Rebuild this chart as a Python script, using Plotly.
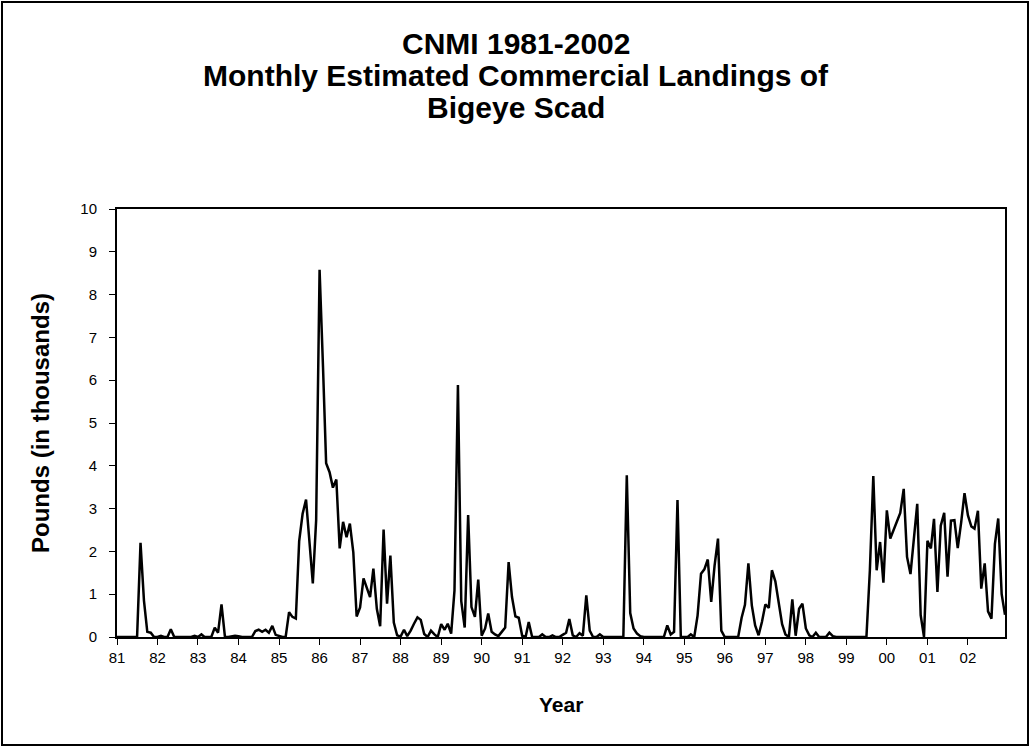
import pandas as pd
import plotly.graph_objects as go

# Monthly estimated landings (thousands of pounds), Jan..Dec for each year
y1981 = [0, 0, 0, 0, 0, 0, 0, 2.2, 0.85, 0.12, 0.1, 0]
y1982 = [0, 0.03, 0, 0, 0.18, 0, 0, 0, 0, 0, 0, 0.03]
y1983 = [0, 0.06, 0, 0, 0, 0.22, 0.1, 0.76, 0, 0, 0.02, 0.03]
y1984 = [0.02, 0, 0, 0, 0, 0.14, 0.17, 0.12, 0.17, 0.1, 0.26, 0.05]
y1985 = [0.02, 0, 0, 0.58, 0.47, 0.43, 2.24, 2.88, 3.21, 2.2, 1.25, 2.73]
y1986 = [8.58, 6.3, 4.06, 3.85, 3.49, 3.68, 2.07, 2.69, 2.33, 2.65, 1.98, 0.48]
y1987 = [0.69, 1.37, 1.16, 0.93, 1.6, 0.66, 0.25, 2.51, 0.78, 1.9, 0.34, 0.04]
y1988 = [0.01, 0.17, 0.02, 0.15, 0.31, 0.46, 0.4, 0.07, 0, 0.15, 0.06, 0]
y1989 = [0.3, 0.17, 0.31, 0.08, 1.09, 5.89, 0.84, 0.22, 2.85, 0.7, 0.47, 1.34]
y1990 = [0.03, 0.2, 0.55, 0.12, 0.06, 0.02, 0.12, 0.22, 1.75, 0.94, 0.48, 0.45]
y1991 = [0.03, 0, 0.35, 0, 0, 0, 0.06, 0, 0, 0.04, 0, 0]
y1992 = [0.05, 0.1, 0.42, 0.04, 0, 0.09, 0.03, 0.97, 0.15, 0, 0, 0.06]
y1993 = [0, 0, 0, 0, 0, 0, 0, 3.78, 0.56, 0.2, 0.08, 0.02]
y1994 = [0, 0, 0, 0, 0, 0, 0, 0.27, 0.06, 0.12, 3.2, 0]
y1995 = [0, 0, 0.06, 0, 0.5, 1.48, 1.58, 1.81, 0.82, 1.66, 2.3, 0.15]
y1996 = [0, 0, 0, 0, 0, 0.45, 0.75, 1.72, 0.74, 0.27, 0.04, 0.35]
y1997 = [0.76, 0.68, 1.56, 1.3, 0.76, 0.3, 0.06, 0, 0.88, 0.03, 0.66, 0.78]
y1998 = [0.2, 0.04, 0, 0.1, 0, 0, 0, 0.1, 0.02, 0, 0, 0]
y1999 = [0, 0, 0, 0, 0, 0, 0, 1.56, 3.76, 1.56, 2.22, 1.27]
y2000 = [2.96, 2.3, 2.5, 2.68, 2.9, 3.46, 1.87, 1.47, 2.34, 3.11, 0.51, 0]
y2001 = [2.25, 2.07, 2.76, 1.05, 2.6, 2.9, 1.41, 2.72, 2.73, 2.08, 2.68, 3.36]
y2002 = [2.84, 2.58, 2.53, 2.95, 1.13, 1.72, 0.6, 0.43, 2.17, 2.77, 1.0, 0.52]

years = [y1981, y1982, y1983, y1984, y1985, y1986, y1987, y1988, y1989, y1990, y1991,
         y1992, y1993, y1994, y1995, y1996, y1997, y1998, y1999, y2000, y2001, y2002]
values = [v for yr in years for v in yr]
months = pd.date_range("1981-01-01", periods=len(values), freq="MS")

title_lines = ["CNMI 1981-2002", "Monthly Estimated Commercial Landings of", "Bigeye Scad"]
x_title = "Year"
y_title = "Pounds (in thousands)"

FONT = "Liberation Sans, Arial, sans-serif"

fig = go.Figure()
fig.add_trace(go.Scatter(x=months, y=values, mode="lines",
                         line=dict(color="black", width=2.5), showlegend=False))

W, H = 1031, 748
L, R, T, B = 117, 26, 209, 111
pw, ph = W - L - R, H - T - B

def px_to_paper_x(px):
    return (px - L) / pw

def px_to_paper_y(py):
    return (H - B - py) / ph

fig.update_layout(
    width=W, height=H,
    margin=dict(l=L, r=R, t=T, b=B, pad=0),
    paper_bgcolor="white", plot_bgcolor="white",
    font=dict(family=FONT, color="black", size=15),
    xaxis=dict(
        type="date",
        range=[months[0], months[-1]],
        tickformat="%y", dtick="M12", tick0="1981-01-01",
        ticks="outside", ticklen=6, tickwidth=1, tickcolor="black",
        showline=True, linecolor="black", linewidth=2, mirror=True,
        showgrid=False, zeroline=False,
        tickfont=dict(size=15, family=FONT),
    ),
    yaxis=dict(
        range=[0, 10], dtick=1, tick0=0,
        ticks="outside", ticklen=6, tickwidth=1, tickcolor="black",
        showline=True, linecolor="black", linewidth=2, mirror=True,
        showgrid=False, zeroline=False,
        ticklabelstandoff=9,
        tickfont=dict(size=15, family=FONT),
    ),
)

title_y = [43, 76, 108]
for txt, yy in zip(title_lines, title_y):
    fig.add_annotation(text="<b>%s</b>" % txt, xref="paper", yref="paper",
                       x=px_to_paper_x(516), y=px_to_paper_y(yy),
                       xanchor="center", yanchor="middle", showarrow=False,
                       font=dict(size=30, family=FONT, color="black"))

fig.add_annotation(text="<b>%s</b>" % x_title, xref="paper", yref="paper",
                   x=px_to_paper_x(561), y=px_to_paper_y(704),
                   xanchor="center", yanchor="middle", showarrow=False,
                   font=dict(size=21, family=FONT, color="black"))
fig.add_annotation(text="<b>%s</b>" % y_title, xref="paper", yref="paper",
                   x=px_to_paper_x(40), y=px_to_paper_y(423), textangle=-90,
                   xanchor="center", yanchor="middle", showarrow=False,
                   font=dict(size=24, family=FONT, color="black"))

# outer chart border
fig.add_shape(type="rect", xref="paper", yref="paper",
              x0=px_to_paper_x(2), x1=px_to_paper_x(1028),
              y0=px_to_paper_y(745), y1=px_to_paper_y(2),
              line=dict(color="black", width=2), fillcolor="rgba(0,0,0,0)")

fig.write_html("out.html", config={"displayModeBar": False},
               post_script="document.body.style.margin='0';document.body.style.overflow='hidden';")
